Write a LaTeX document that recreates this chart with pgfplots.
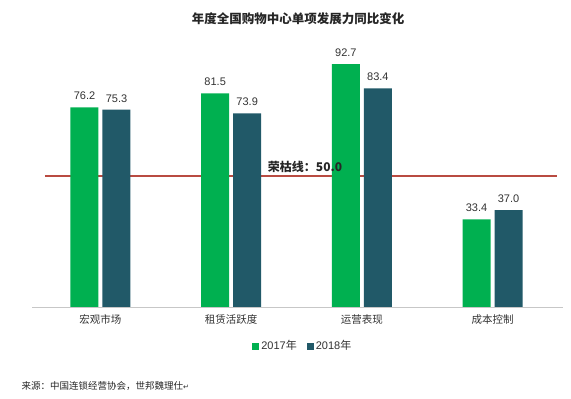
\documentclass[border=0pt]{standalone}
\usepackage{fontspec}
\setmainfont{Liberation Sans}
\newfontfamily\cjk{Noto Sans CJK SC}
\newfontfamily\sym{DejaVu Sans}
\usepackage{pgfplots}
\pgfplotsset{compat=1.18}
\definecolor{g17}{RGB}{0,176,80}
\definecolor{t18}{RGB}{33,89,104}
\definecolor{refl}{RGB}{185,75,65}
\definecolor{txt}{RGB}{50,50,50}
\begin{document}
\begin{tikzpicture}
\useasboundingbox (0bp,0bp) rectangle (571bp,399bp);
\node[font=\cjk\bfseries\fontsize{12.5bp}{14bp}\selectfont, text=black!85] at (298bp,380bp) {年度全国购物中心单项发展力同比变化};
\node[anchor=west, font=\cjk\fontsize{9.5bp}{11bp}\selectfont, text=black!85] at (18bp,13bp) {来源：中国连锁经营协会，世邦魏理仕{\sym\fontsize{7bp}{8bp}\selectfont ↵}};
\begin{axis}[
  at={(32bp,92bp)}, anchor=south west,
  scale only axis, width=531bp, height=262bp,
  xmin=-0.524, xmax=3.539, ymin=0, ymax=100,
  ybar=4bp, bar width=28bp,
  hide y axis,
  axis x line*=bottom,
  x axis line style={draw=black!22, line width=0.8bp, -},
  xtick={0,1,2,3},
  xticklabels={宏观市场,租赁活跃度,运营表现,成本控制},
  xticklabel style={font=\cjk\fontsize{10.5bp}{12bp}\selectfont, text=txt, yshift=-4bp},
  major tick length=0pt,
  /pgf/number format/assume math mode=true,
  /pgf/number format/fixed, /pgf/number format/fixed zerofill, /pgf/number format/precision=1,
  every node near coord/.append style={font=\fontsize{11bp}{13bp}\selectfont, text=txt, yshift=4bp},
  legend style={at={(0.51,-0.149)}, anchor=center, draw=none, legend columns=2,
    font=\fontsize{11bp}{13bp}\selectfont, text=txt,
    /tikz/every even column/.append style={column sep=8bp}},
  legend image code/.code={\fill[#1] (0bp,-3.5bp) rectangle (7bp,3.5bp);},
]
\addplot[draw=refl, fill=none, line width=1.1bp, sharp plot, mark=none, forget plot] coordinates {(-0.425,50) (3.49,50)};
\addplot[fill=g17, draw=none, nodes near coords] coordinates {(0,76.2) (1,81.5) (2,92.7) (3,33.4)};
\addlegendentry{2017{\cjk 年}}
\addplot[fill=t18, draw=none, nodes near coords] coordinates {(0,75.3) (1,73.9) (2,83.4) (3,37.0)};
\addlegendentry{2018{\cjk 年}}
\node[font=\cjk\bfseries\fontsize{12bp}{14bp}\selectfont, text=black!85] at (axis cs:1.565,53.4) {荣枯线：50.0};
\end{axis}
\end{tikzpicture}
\end{document}
